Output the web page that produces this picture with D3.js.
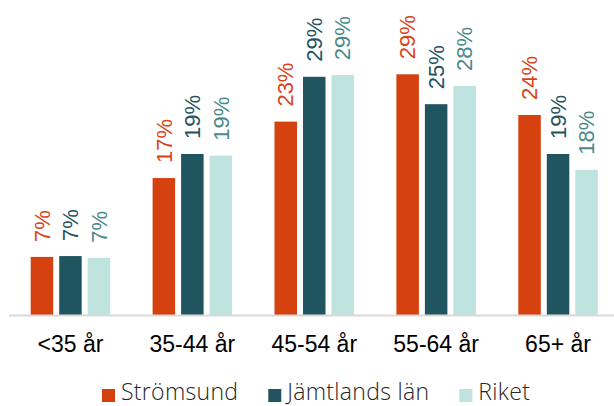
<!DOCTYPE html>
<html>
<head>
<meta charset="utf-8">
<script src="https://cdn.jsdelivr.net/npm/d3@7"></script>
<style>
  body { margin: 0; background: #fff; }
  svg { display: block; }
</style>
</head>
<body>
<div class="chart"></div>
<script>
  // age groups and share per area (percent)
  var categories = ["<35 år", "35-44 år", "45-54 år", "55-64 år", "65+ år"];
  var series = ["Strömsund", "Jämtlands län", "Riket"];
  var stromsund = [7.0, 16.5, 23.3, 29.0, 24.1];
  var jamtland = [7.1, 19.4, 28.7, 25.4, 19.4];
  var riket = [6.9, 19.2, 28.9, 27.6, 17.5];
  var barColors = ["#d5410f", "#20545e", "#bfe3df"];
  var labelColors = ["#d9431a", "#22545f", "#4a8a8c"];

  var width = 614;
  var height = 406;
  var baseline = 315;

  var svg = d3.select(".chart").append("svg")
    .attr("width", width)
    .attr("height", height);

  var values = [stromsund, jamtland, riket];

  var x0 = d3.scaleBand()
    .domain(categories)
    .range([9.5, 619]);

  var x1 = d3.scaleBand()
    .domain(series)
    .range([-39.75, 39.75])
    .paddingInner(6 / 28.5);

  var y = d3.scaleLinear()
    .domain([0, 30])
    .range([baseline, baseline - 249]);

  var rows = [];
  categories.forEach(function(c, i) {
    series.forEach(function(s, j) {
      rows.push({ cat: c, s: s, j: j, v: values[j][i] });
    });
  });

  var groups = svg.append("g");

  groups.selectAll("rect")
    .data(rows)
    .enter().append("rect")
    .attr("x", function(d) { return x0(d.cat) + x0.bandwidth() / 2 + x1(d.s); })
    .attr("y", function(d) { return y(d.v); })
    .attr("width", x1.bandwidth())
    .attr("height", function(d) { return baseline - y(d.v); })
    .style("fill", function(d) { return barColors[d.j]; });

  // value labels, rotated
  groups.selectAll("text")
    .data(rows)
    .enter().append("text")
    .attr("transform", function(d) {
      var cx = x0(d.cat) + x0.bandwidth() / 2 + x1(d.s) + x1.bandwidth() / 2;
      return "translate(" + cx + "," + (y(d.v) - 15) + ") rotate(-90)";
    })
    .attr("dy", "0.35em")
    .style("font-family", "'Liberation Sans', Arial, sans-serif")
    .style("font-size", "22px")
    .style("fill", function(d) { return labelColors[d.j]; })
    .text(function(d) { return Math.round(d.v) + "%"; });

  // axis line
  svg.append("line")
    .attr("x1", 9).attr("x2", width)
    .attr("y1", baseline + 0.5).attr("y2", baseline + 0.5)
    .style("stroke", "#d9d9d9")
    .style("stroke-width", 2);

  svg.append("g").selectAll("text")
    .data(categories)
    .enter().append("text")
    .attr("x", function(d) { return x0(d) + x0.bandwidth() / 2; })
    .attr("y", 352)
    .attr("text-anchor", "middle")
    .style("font-family", "'Liberation Sans', Arial, sans-serif")
    .style("font-size", "23px")
    .style("fill", "#000")
    .text(function(d) { return d; });

  // legend
  var legend = svg.append("g");
  var lx = 102;
  series.forEach(function(s, j) {
    legend.append("rect")
      .attr("x", lx).attr("y", 389)
      .attr("width", 13).attr("height", 13)
      .style("fill", barColors[j]);
    var t = legend.append("text")
      .attr("x", lx + 19).attr("y", 400)
      .style("font-family", "'Open Sans', sans-serif")
      .style("font-weight", 300)
      .style("font-size", "23px")
      .style("letter-spacing", "0.3px")
      .style("fill", "#262626")
      .text(s);
    lx += 19 + t.node().getComputedTextLength() + 30;
  });
</script>
</body>
</html>
